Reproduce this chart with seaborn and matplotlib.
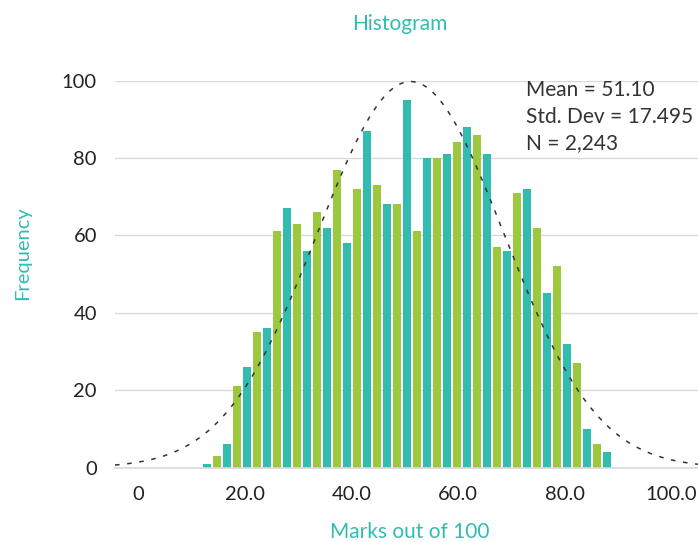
"""Histogram of marks with fitted normal curve."""
import matplotlib
matplotlib.use("Agg")
import matplotlib.pyplot as plt
import numpy as np
import pandas as pd
import seaborn as sns

# ---------------------------------------------------------------------------
# data
# ---------------------------------------------------------------------------
BIN_LO, BIN_HI = 11.93, 88.83          # outer edges of the 41 bins
COUNTS = [1, 3, 6, 21, 26, 35, 36, 61, 67, 63,
          56, 66, 62, 77, 58, 72, 87, 73, 68, 68,
          95, 61, 80, 80, 81, 84, 88, 86, 81, 57,
          56, 71, 72, 62, 45, 52, 32, 27, 10, 6, 4]
GROUPS = ["odd", "even"]               # bars alternate colour
MEAN = 51.10
SD = 17.495
N = 2243
CURVE_BIN = 1.95                       # bin width used to scale the curve
STATS = ["Mean = 51.10", "Std. Dev = 17.495", "N = 2,243"]
X_TICKS = [0, 20, 40, 60, 80, 100]
X_TICKLABELS = ["0", "20.0", "40.0", "60.0", "80.0", "100.0"]
Y_TICKS = [0, 20, 40, 60, 80, 100]

TEAL = "#30bdb0"
GREEN = "#9bc83c"
GREY = "#d9d9d9"
TEXT = "#222222"

sns.set_theme(style="white")
plt.rcParams["font.family"] = ["Lato", "DejaVu Sans"]

bin_w = (BIN_HI - BIN_LO) / len(COUNTS)
centers = BIN_LO + bin_w * (np.arange(len(COUNTS)) + 0.5)
df = pd.DataFrame({
    "mark": centers,
    "count": COUNTS,
    "group": [GROUPS[i % 2] for i in range(len(COUNTS))],
})

fig = plt.figure(figsize=(6.98, 5.42), dpi=100)
ax = fig.add_axes([115 / 698, 74.4 / 542, 583 / 698, 387.1 / 542])

ax.set_xlim(-4.33, 105.0)
ax.set_ylim(0, 100)
ax.set_axisbelow(True)
ax.yaxis.grid(True, color=GREY, linewidth=1)
ax.xaxis.grid(False)

sns.histplot(data=df, x="mark", weights="count", hue="group",
             hue_order=GROUPS, palette=[TEAL, GREEN],
             binwidth=bin_w, binrange=(BIN_LO, BIN_HI),
             shrink=0.8, alpha=1, linewidth=0, legend=False, ax=ax)

# normal curve
xs = np.linspace(-4.33, 105.0, 400)
ys = N * CURVE_BIN * np.exp(-0.5 * ((xs - MEAN) / SD) ** 2) / (SD * np.sqrt(2 * np.pi))
ax.plot(xs, ys, color="#333333", linewidth=1.1, linestyle=(0, (3.0, 5.0)),
        clip_on=False)

for i, line in enumerate(STATS):
    ax.text(0.7050, 0.975 - i * 26.7 / 387.1, line, transform=ax.transAxes,
            ha="left", va="center", fontsize=15, color="#333333")

for side in ("top", "right", "left"):
    ax.spines[side].set_visible(False)
ax.spines["bottom"].set_color(GREY)
ax.spines["bottom"].set_linewidth(1.2)

ax.set_xticks(X_TICKS)
ax.set_xticklabels(X_TICKLABELS)
ax.set_yticks(Y_TICKS)
ax.tick_params(axis="x", length=6, width=1, color=GREY, pad=7,
               labelsize=14.5, labelcolor=TEXT)
ax.tick_params(axis="y", length=0, pad=13, labelsize=14.5, labelcolor=TEXT)

ax.set_xlabel("Marks out of 100", fontsize=15, color=TEAL)
ax.xaxis.set_label_coords(0.506, -0.166)
ax.xaxis.label.set_va("center")
ax.set_ylabel("Frequency", fontsize=14.5, color=TEAL)
ax.yaxis.set_label_coords(-0.158, 0.554)
ax.yaxis.label.set_va("center")
ax.set_title("Histogram", fontsize=15, color=TEAL, x=0.489, y=1.146,
             va="center", pad=0)

fig.savefig("out.png", dpi=100)
